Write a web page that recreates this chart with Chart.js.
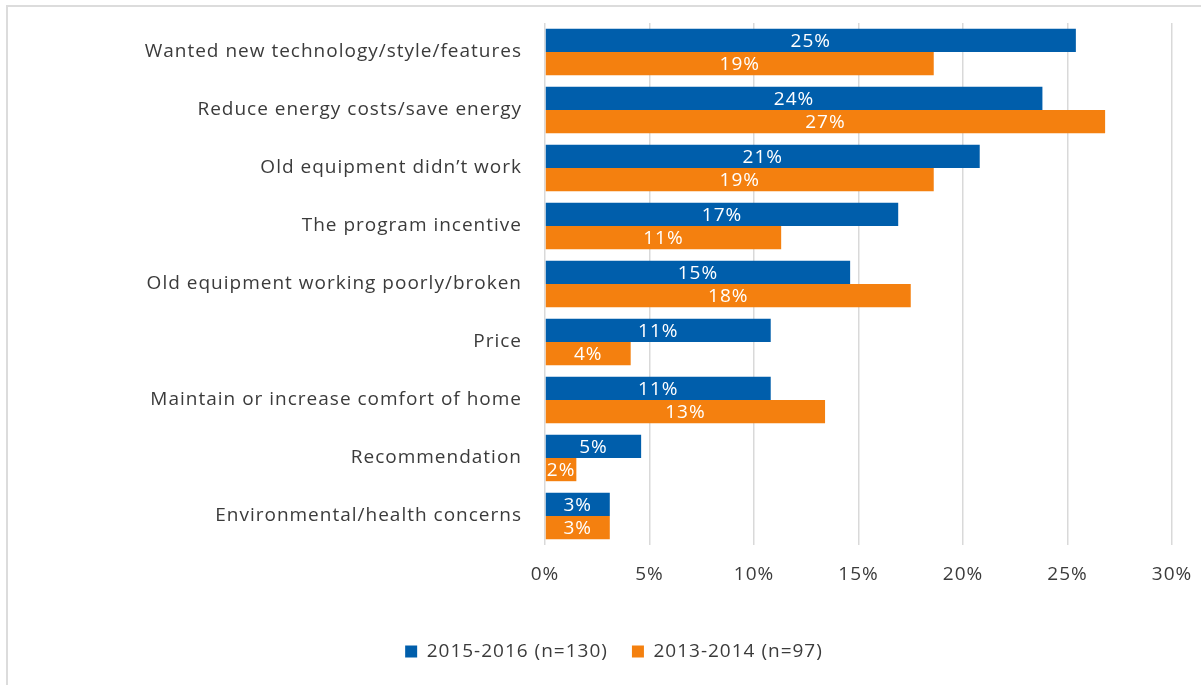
<!DOCTYPE html>
<html>
<head>
<meta charset="utf-8">
<script src="https://cdn.jsdelivr.net/npm/chart.js@4/dist/chart.umd.min.js"></script>
<style>
  body { margin: 0; background: #fff; }
  #wrap { width: 1201px; height: 685px; }
</style>
</head>
<body>
<div id="wrap"><canvas id="chart1" width="1201" height="685"></canvas></div>
<script>
const categories = [
  'Wanted new technology/style/features',
  'Reduce energy costs/save energy',
  'Old equipment didn\u2019t work',
  'The program incentive',
  'Old equipment working poorly/broken',
  'Price',
  'Maintain or increase comfort of home',
  'Recommendation',
  'Environmental/health concerns'
];
const recent = [25.4, 23.8, 20.8, 16.9, 14.6, 10.8, 10.8, 4.6, 3.1];
const earlier = [18.6, 26.8, 18.6, 11.3, 17.5, 4.1, 13.4, 1.5, 3.1];
const xTicks = [0, 5, 10, 15, 20, 25, 30];

const fontFam = '"Open Sans", Lato, sans-serif';
const fontSize = 19;
const textCol = '#3b3b3b';

// slightly wider text, closer to the original's look
// (canvas resize resets the context, so set it on every pass)
const spacing = {
  id: 'spacing',
  beforeUpdate(chart) { chart.ctx.letterSpacing = '1px'; },
  beforeDraw(chart) { chart.ctx.letterSpacing = '1px'; }
};

// white percent labels in the middle of each bar
const barLabels = {
  id: 'barLabels',
  afterDatasetsDraw(chart) {
    const ctx = chart.ctx;
    ctx.save();
    ctx.font = fontSize + 'px ' + fontFam;
    ctx.fillStyle = '#fff';
    ctx.textAlign = 'center';
    ctx.textBaseline = 'middle';
    chart.data.datasets.forEach((ds, i) => {
      chart.getDatasetMeta(i).data.forEach((bar, j) => {
        const mid = (bar.x + bar.base) / 2;
        ctx.fillText(Math.round(ds.data[j]) + '%', mid, bar.y + 1);
      });
    });
    ctx.restore();
  }
};

// page background and grey frame
const frame = {
  id: 'frame',
  beforeDraw(chart) {
    const ctx = chart.ctx;
    ctx.save();
    ctx.fillStyle = '#fff';
    ctx.fillRect(0, 0, chart.width, chart.height);
    ctx.strokeStyle = '#dcdcdc';
    ctx.lineWidth = 2;
    ctx.beginPath();
    ctx.moveTo(7, chart.height);
    ctx.lineTo(7, 6);
    ctx.lineTo(chart.width, 6);
    ctx.stroke();
    ctx.restore();
  }
};

new Chart(document.getElementById('chart1'), {
  type: 'bar',
  data: {
    labels: categories,
    datasets: [{
      label: '2015-2016 (n=130)',
      data: recent,
      backgroundColor: '#005EAB'
    }, {
      label: '2013-2014 (n=97)',
      data: earlier,
      backgroundColor: '#F4800F'
    }]
  },
  options: {
    indexAxis: 'y',
    responsive: false,
    animation: false,
    datasets: {
      bar: { categoryPercentage: 0.8, barPercentage: 1.0 }
    },
    layout: { padding: { top: 23, right: 29, bottom: 14, left: 56 } },
    scales: {
      x: {
        min: 0,
        max: 30,
        afterBuildTicks(scale) { scale.ticks = xTicks.map(v => ({ value: v })); },
        afterFit(scale) {
          scale.height = 73;
          scale.paddingLeft = 0;
          scale.paddingRight = 0;
        },
        grid: { color: '#d9d9d9', lineWidth: 1.5, drawTicks: false },
        border: { display: false },
        ticks: {
          padding: 18,
          color: textCol,
          font: { family: fontFam, size: fontSize },
          callback: v => v + '%'
        }
      },
      y: {
        afterFit(scale) {
          scale.width = 489;
          scale.paddingTop = 0;
          scale.paddingBottom = 0;
        },
        grid: { display: false, drawTicks: false },
        border: { display: false },
        ticks: {
          padding: 23,
          color: textCol,
          font: { family: fontFam, size: fontSize }
        }
      }
    },
    plugins: {
      legend: {
        position: 'bottom',
        labels: {
          boxWidth: 12,
          boxHeight: 12,
          padding: 24,
          color: textCol,
          font: { family: fontFam, size: fontSize }
        }
      },
      tooltip: { enabled: false }
    }
  },
  plugins: [spacing, frame, barLabels]
});
</script>
</body>
</html>
